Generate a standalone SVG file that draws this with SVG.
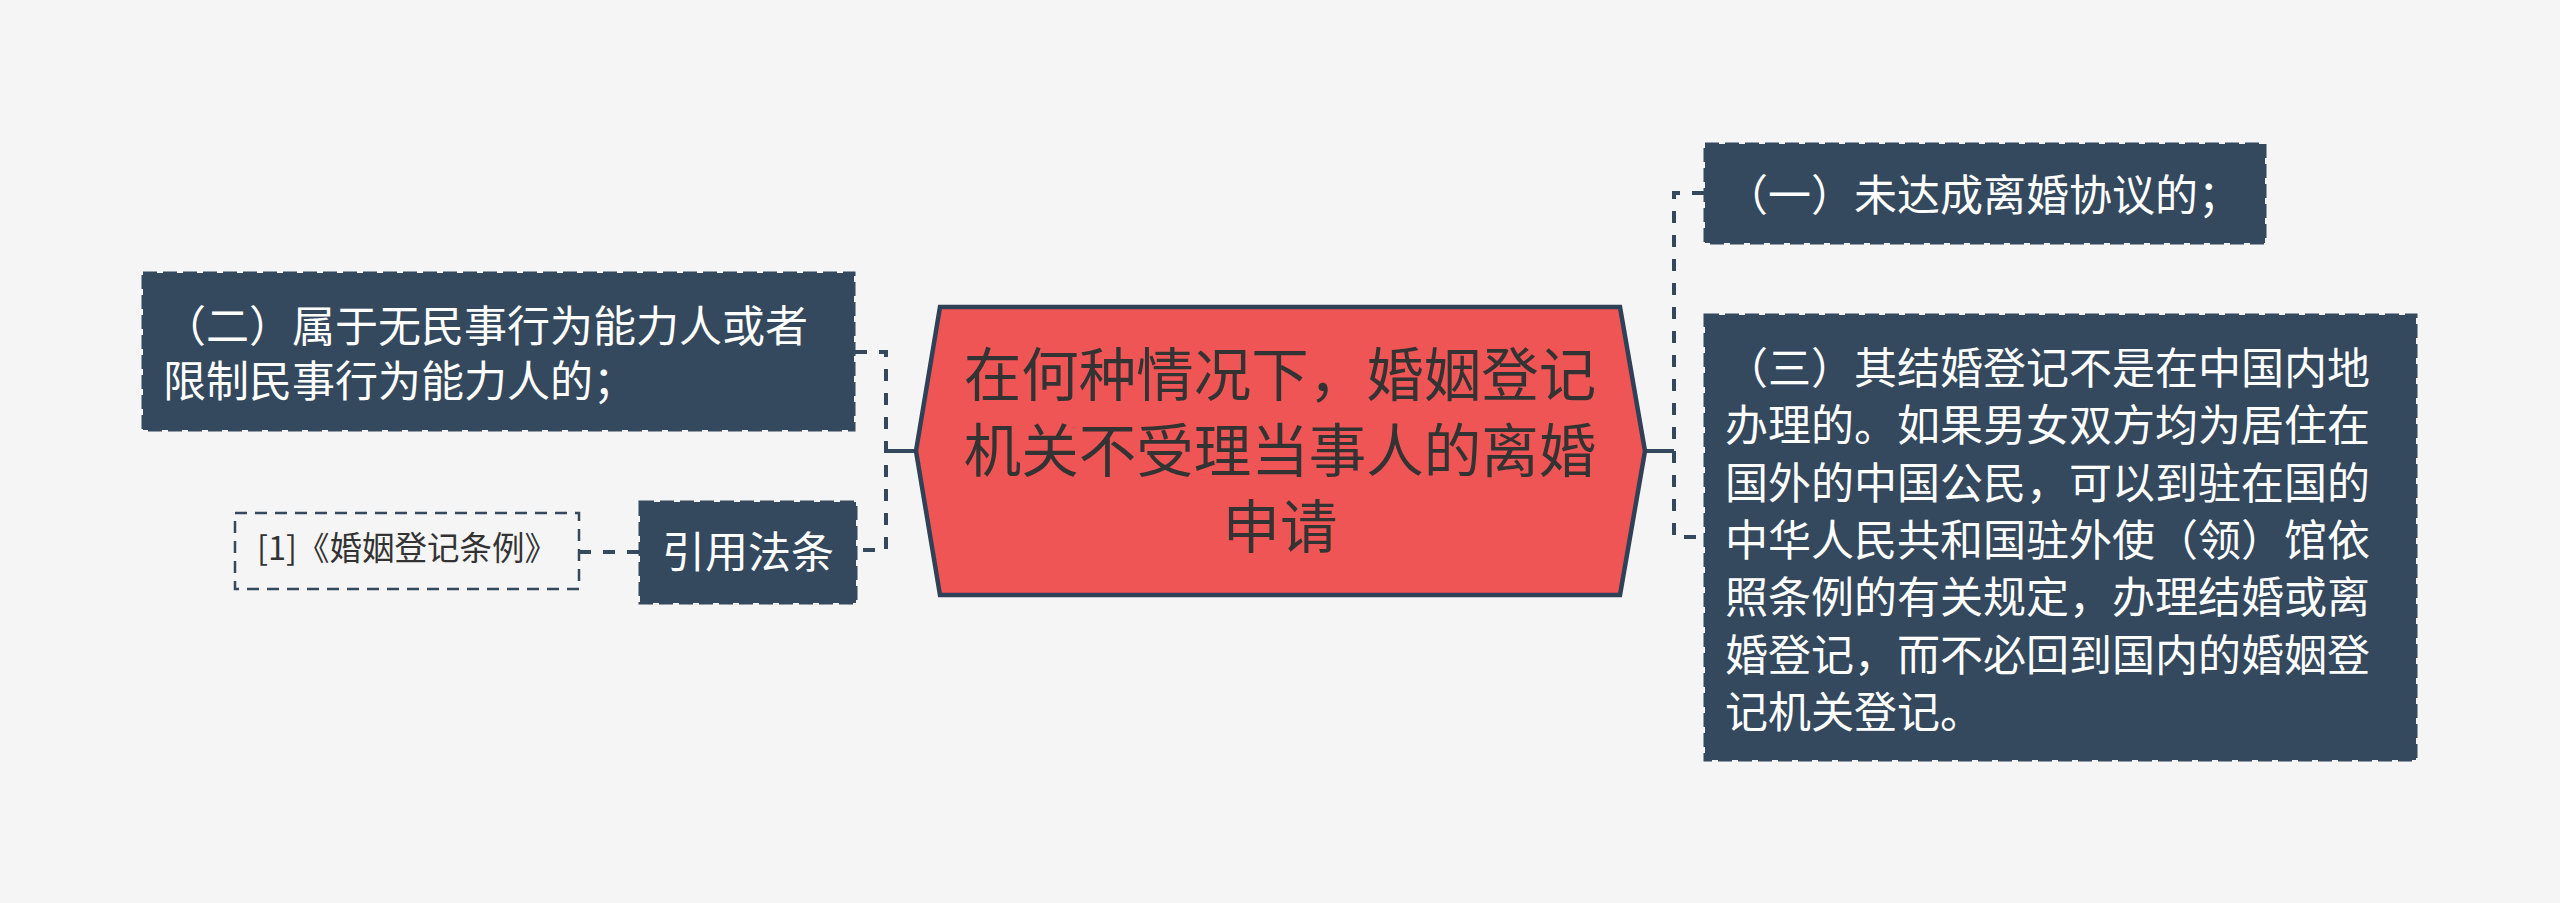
<svg xmlns="http://www.w3.org/2000/svg" width="2560" height="903" viewBox="0 0 2560 903">
<style>
.bg{fill:#f5f5f5}
.box{fill:#34495e;stroke:#34495e;stroke-width:3;stroke-dasharray:14 6}
.ref{fill:none;stroke:#34495e;stroke-width:2.5;stroke-dasharray:12 8}
.wt{font-family:"Noto Sans CJK SC","Noto Sans",sans-serif;font-size:43px;fill:#ffffff}
.ct{font-family:"Noto Sans CJK SC","Noto Sans",sans-serif;font-size:57.5px;fill:#333333;text-anchor:middle}
.rt{font-family:"Noto Sans CJK SC","Noto Sans",sans-serif;font-size:32.5px;fill:#333333;text-anchor:middle}
.solid{fill:none;stroke:#34495e;stroke-width:4}
.dash{fill:none;stroke:#34495e;stroke-width:4;stroke-dasharray:12 12}
</style>
<rect class="bg" x="0" y="0" width="2560" height="903"/>
<g id="connectors">
<path class="solid" d="M916,451 H886"/>
<path class="dash" d="M855,352 H886 V550 H856"/>
<path class="solid" d="M1645,451 H1674"/>
<path class="dash" d="M1704,193 H1674 V537 H1704"/>
<path class="dash" d="M579,552 H640"/>
</g>
<g id="center">
<polygon points="940,307 1620,307 1645,451 1620,595 940,595 916,451" fill="#f05555" stroke="#2f4156" stroke-width="4.5"/>
<text class="ct" x="1280" y="396">在何种情况下，婚姻登记</text>
<text class="ct" x="1280" y="472">机关不受理当事人的离婚</text>
<text class="ct" x="1280" y="548">申请</text>
</g>
<g id="node-2">
<rect class="box" x="143" y="273" width="711" height="157"/>
<text class="wt" x="163" y="342">（二）属于无民事行为能力人或者</text>
<text class="wt" x="163" y="397">限制民事行为能力人的；</text>
</g>
<g id="node-ref">
<rect class="box" x="640" y="502" width="216" height="101"/>
<text class="wt" x="748" y="568" text-anchor="middle">引用法条</text>
</g>
<g id="node-ref-1">
<rect class="ref" x="235" y="513" width="344" height="76"/>
<text class="rt" x="407" y="560">[1]《婚姻登记条例》</text>
</g>
<g id="node-1">
<rect class="box" x="1705" y="144" width="560" height="99"/>
<text class="wt" x="1725" y="211">（一）未达成离婚协议的；</text>
</g>
<g id="node-3">
<rect class="box" x="1705" y="315" width="711" height="445"/>
<text class="wt" x="1725" y="384">（三）其结婚登记不是在中国内地</text>
<text class="wt" x="1725" y="441.3">办理的。如果男女双方均为居住在</text>
<text class="wt" x="1725" y="498.6">国外的中国公民，可以到驻在国的</text>
<text class="wt" x="1725" y="555.9">中华人民共和国驻外使（领）馆依</text>
<text class="wt" x="1725" y="613.2">照条例的有关规定，办理结婚或离</text>
<text class="wt" x="1725" y="670.5">婚登记，而不必回到国内的婚姻登</text>
<text class="wt" x="1725" y="727.8">记机关登记。</text>
</g>
</svg>
